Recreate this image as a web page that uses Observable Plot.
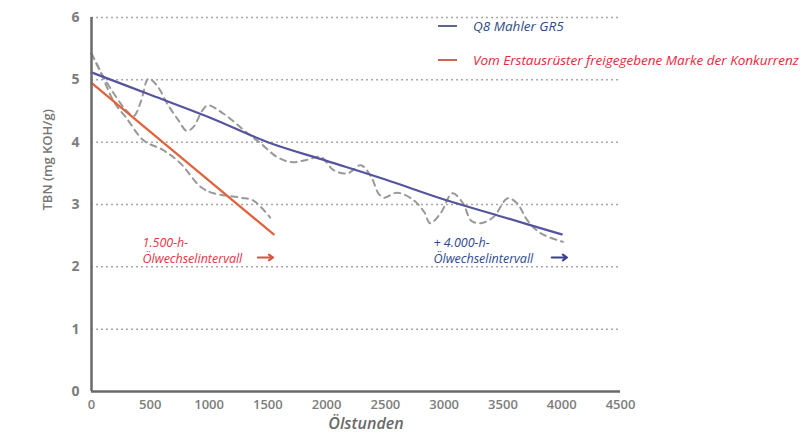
<!DOCTYPE html>
<html>
<head>
<meta charset="utf-8">
<script src="https://cdn.jsdelivr.net/npm/d3@7"></script>
<script src="https://cdn.jsdelivr.net/npm/@observablehq/plot@0.6"></script>
<style>
  html, body { margin: 0; padding: 0; background: #fff; overflow: hidden; }
  #wrap { position: relative; width: 800px; height: 439px; font-family: "Open Sans", sans-serif; overflow: hidden; }
  #legend { position: absolute; left: 438px; top: 17px; white-space: nowrap; }
  .row { display: flex; align-items: center; height: 18px; margin-bottom: 16px; }
  .sw { width: 19px; height: 2px; margin-right: 16px; }
  .lt { font-style: italic; font-size: 13.5px; }
</style>
</head>
<body>
<div id="wrap"><div id="chart"></div><div id="legend"></div></div>
<script>
// ---- data ----
const seriesNames = ["Q8 Mahler GR5", "Vom Erstausrüster freigegebene Marke der Konkurrenz"];
const seriesColors = ["#55559f", "#e0633f"];
const legendSwatch = ["#5d6890", "#cf6450"];
const legendText = ["#2f4b86", "#e8283c"];

const q8Hours = [0, 500, 1000, 1500, 2000, 2500, 3000, 3500, 4000];
const q8Tbn   = [5.12, 4.76, 4.40, 4.00, 3.70, 3.40, 3.08, 2.80, 2.52];

const compHours = [0, 1550];
const compTbn   = [4.95, 2.52];

// measured (dashed grey) readings around Q8
const q8MeasHours = [0, 80, 190, 300, 360, 420, 485, 560, 650, 740, 810, 870, 940, 990, 1120, 1330, 1440, 1580, 1700, 1820, 1950, 2060, 2180, 2290, 2380, 2440, 2490, 2600, 2740, 2830, 2880, 2970, 3070, 3160, 3230, 3310, 3420, 3540, 3620, 3710, 3820, 4010];
const q8MeasTbn   = [5.42, 5.12, 4.78, 4.50, 4.42, 4.65, 5.02, 4.90, 4.60, 4.35, 4.18, 4.25, 4.50, 4.59, 4.46, 4.14, 3.98, 3.76, 3.68, 3.71, 3.76, 3.55, 3.50, 3.63, 3.44, 3.18, 3.11, 3.19, 3.07, 2.88, 2.70, 2.86, 3.18, 3.02, 2.74, 2.70, 2.80, 3.10, 3.02, 2.74, 2.54, 2.40];

// measured (dashed grey) readings around competitor
const compMeasHours = [0, 60, 190, 300, 442, 612, 757, 930, 1040, 1270, 1380, 1520];
const compMeasTbn   = [5.42, 5.20, 4.65, 4.38, 4.03, 3.87, 3.66, 3.28, 3.18, 3.11, 3.06, 2.79];

const xTicks = [0, 500, 1000, 1500, 2000, 2500, 3000, 3500, 4000, 4500];
const yTicks = [0, 1, 2, 3, 4, 5, 6];
const gridVals = [1, 2, 3, 4, 5, 6];

const intervalLabels = ["1.500-h-\nÖlwechselintervall", "+ 4.000-h-\nÖlwechselintervall"];
const intervalLabelX = [434, 2909];
const intervalLabelY = [2.27, 2.27];
const intervalEndX = [1545, 4045];
const intervalArrowY = [2.15, 2.15];
const intervalColors = ["#e8334a", "#2e4a8c"];
const arrowColors = ["#d9533f", "#3c3f8f"];

// ---- build ----
const q8 = q8Hours.map((h, i) => ({h, v: q8Tbn[i]}));
const comp = compHours.map((h, i) => ({h, v: compTbn[i]}));
const q8m = q8MeasHours.map((h, i) => ({h, v: q8MeasTbn[i]}));
const compm = compMeasHours.map((h, i) => ({h, v: compMeasTbn[i]}));
const ann = intervalLabels.map((t, i) => ({t, x: intervalLabelX[i], y: intervalLabelY[i], c: intervalColors[i]}));
const arr = intervalEndX.map((x, i) => ({x1: x - 130, x2: x, y: intervalArrowY[i], c: arrowColors[i]}));

const fmt = d3.format("d");

const chart = Plot.plot({
  width: 800,
  height: 439,
  marginLeft: 91,
  marginRight: 180,
  marginTop: 17,
  marginBottom: 48,
  style: {fontFamily: "'Open Sans', sans-serif", overflow: "visible", background: "#fff"},
  x: {domain: [0, 4500], ticks: xTicks, tickFormat: fmt},
  y: {domain: [0, 6], ticks: yTicks, tickFormat: fmt},
  marks: [
    Plot.ruleY(gridVals, {stroke: "#a8a8a8", strokeWidth: 1.5, strokeDasharray: "2,3"}),
    Plot.axisX({ticks: xTicks, tickFormat: fmt, tickSize: 0, tickPadding: 8, fontSize: 13, fontWeight: 600, fill: "#7d7d7d", label: null}),
    Plot.axisY({ticks: yTicks, tickFormat: fmt, tickSize: 0, tickPadding: 12, fontSize: 14, fontWeight: 700, fill: "#7d7d7d", label: null}),
    Plot.line(q8m, {x: "h", y: "v", stroke: "#999", strokeWidth: 2, strokeDasharray: "6,5", curve: "catmull-rom"}),
    Plot.line(compm, {x: "h", y: "v", stroke: "#999", strokeWidth: 2, strokeDasharray: "6,5", curve: "catmull-rom"}),
    Plot.line(q8, {x: "h", y: "v", stroke: seriesColors[0], strokeWidth: 2.2, curve: "catmull-rom"}),
    Plot.line(comp, {x: "h", y: "v", stroke: seriesColors[1], strokeWidth: 2.2}),
    Plot.ruleX([0], {stroke: "#6a6a6a", strokeWidth: 2.5}),
    Plot.ruleY([0], {stroke: "#6a6a6a", strokeWidth: 2.5}),
    Plot.text(ann, {x: "x", y: "y", text: "t", fill: "c", textAnchor: "start", fontSize: 12.5, fontStyle: "italic", lineHeight: 1.3}),
    Plot.arrow(arr, {x1: "x1", x2: "x2", y1: "y", y2: "y", stroke: "c", strokeWidth: 2, headLength: 6, headAngle: 70, inset: 0}),
    Plot.text(["TBN (mg KOH/g)"], {frameAnchor: "left", dx: -44, dy: 6, rotate: -90, fontSize: 13, fontWeight: 600, fill: "#777"}),
    Plot.text(["Ölstunden"], {frameAnchor: "bottom", dx: 10, dy: 37, fontSize: 16, fontStyle: "italic", fontWeight: 600, fill: "#6a6a6a"})
  ]
});
document.getElementById("chart").appendChild(chart);

const lg = document.getElementById("legend");
seriesNames.forEach((n, i) => {
  const row = document.createElement("div");
  row.className = "row";
  const sw = document.createElement("div");
  sw.className = "sw";
  sw.style.background = legendSwatch[i];
  const t = document.createElement("span");
  t.className = "lt";
  t.style.color = legendText[i];
  t.textContent = n;
  row.appendChild(sw);
  row.appendChild(t);
  lg.appendChild(row);
});
</script>
</body>
</html>
